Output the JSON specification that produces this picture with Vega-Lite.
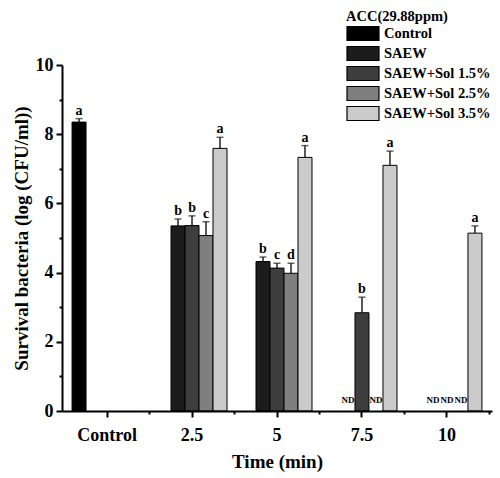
{
  "$schema": "https://vega.github.io/schema/vega-lite/v6.json",
  "width": 430,
  "height": 346,
  "autosize": {"type": "none"},
  "padding": {"left": 62, "top": 65, "right": 8, "bottom": 67},
  "background": "white",
  "data": {
    "values": [
      {"time": "Control", "group": "Control", "value": 8.35, "upper": 8.45, "label": "a"},
      {"time": "2.5", "group": "SAEW", "value": 5.35, "upper": 5.55, "label": "b"},
      {"time": "2.5", "group": "SAEW+Sol 1.5%", "value": 5.36, "upper": 5.64, "label": "b"},
      {"time": "2.5", "group": "SAEW+Sol 2.5%", "value": 5.07, "upper": 5.47, "label": "c"},
      {"time": "2.5", "group": "SAEW+Sol 3.5%", "value": 7.59, "upper": 7.91, "label": "a"},
      {"time": "5", "group": "SAEW", "value": 4.32, "upper": 4.45, "label": "b"},
      {"time": "5", "group": "SAEW+Sol 1.5%", "value": 4.13, "upper": 4.27, "label": "c"},
      {"time": "5", "group": "SAEW+Sol 2.5%", "value": 3.98, "upper": 4.27, "label": "d"},
      {"time": "5", "group": "SAEW+Sol 3.5%", "value": 7.33, "upper": 7.67, "label": "a"},
      {"time": "7.5", "group": "SAEW", "value": 0, "upper": 0, "label": "ND"},
      {"time": "7.5", "group": "SAEW+Sol 1.5%", "value": 2.84, "upper": 3.29, "label": "b"},
      {"time": "7.5", "group": "SAEW+Sol 2.5%", "value": 0, "upper": 0, "label": "ND"},
      {"time": "7.5", "group": "SAEW+Sol 3.5%", "value": 7.10, "upper": 7.51, "label": "a"},
      {"time": "10", "group": "SAEW", "value": 0, "upper": 0, "label": "ND"},
      {"time": "10", "group": "SAEW+Sol 1.5%", "value": 0, "upper": 0, "label": "ND"},
      {"time": "10", "group": "SAEW+Sol 2.5%", "value": 0, "upper": 0, "label": "ND"},
      {"time": "10", "group": "SAEW+Sol 3.5%", "value": 5.14, "upper": 5.35, "label": "a"}
    ]
  },
  "encoding": {
    "x": {
      "field": "time", "type": "nominal",
      "sort": ["Control", "2.5", "5", "7.5", "10"],
      "scale": {"domain": ["Control", "2.5", "5", "7.5", "10"], "paddingInner": 0, "paddingOuter": 0.03},
      "axis": null
    },
    "xOffset": {
      "field": "group", "type": "nominal",
      "scale": {"domain": ["Control", "SAEW", "SAEW+Sol 1.5%", "SAEW+Sol 2.5%", "SAEW+Sol 3.5%"], "paddingInner": 0, "paddingOuter": 0.536}
    }
  },
  "resolve": {"axis": {"x": "independent", "y": "independent"}},
  "layer": [
    {
      "transform": [{"filter": "datum.value > 0"}],
      "mark": {"type": "rule", "color": "#222222", "strokeWidth": 1.5},
      "encoding": {
        "x": {
          "field": "time", "type": "nominal",
          "sort": ["Control", "2.5", "5", "7.5", "10"],
          "axis": {"orient": "bottom", "bandPosition": 1, "labels": false, "title": null, "domain": false, "tickSize": 3, "zindex": 1}
        },
        "y": {
          "field": "value", "type": "quantitative",
          "axis": {"orient": "left", "values": [1, 3, 5, 7, 9], "labels": false, "title": null, "domain": false, "tickSize": 3, "zindex": 1}
        },
        "y2": {"field": "upper"}
      }
    },
    {
      "transform": [{"filter": "datum.value > 0"}],
      "mark": {"type": "bar", "stroke": "black", "strokeWidth": 1},
      "encoding": {
        "x": {
          "field": "time", "type": "nominal",
          "sort": ["Control", "2.5", "5", "7.5", "10"],
          "axis": {"orient": "bottom", "title": "Time (min)", "labelAngle": 0, "zindex": 1}
        },
        "y": {
          "field": "value", "type": "quantitative",
          "scale": {"domain": [0, 10], "nice": false},
          "axis": {"orient": "left", "title": "Survival bacteria (log (CFU/ml))", "values": [0, 2, 4, 6, 8, 10], "zindex": 1}
        },
        "fill": {
          "field": "group", "type": "nominal",
          "scale": {
            "domain": ["Control", "SAEW", "SAEW+Sol 1.5%", "SAEW+Sol 2.5%", "SAEW+Sol 3.5%"],
            "range": ["#000000", "#1c1c1c", "#3e3e3e", "#7f7f7f", "#cbcbcb"]
          },
          "legend": {
            "title": "ACC(29.88ppm)",
            "orient": "none",
            "legendX": 284,
            "legendY": -55
          }
        }
      }
    },
    {
      "transform": [{"filter": "datum.value > 0"}],
      "mark": {"type": "tick", "color": "#222222", "thickness": 1.5, "size": 7, "orient": "horizontal"},
      "encoding": {
        "y": {"field": "upper", "type": "quantitative", "axis": null}
      }
    },
    {
      "transform": [{"filter": "datum.label != 'ND'"}],
      "mark": {"type": "text", "font": "Liberation Serif", "fontWeight": "bold", "fontSize": 14, "baseline": "alphabetic", "dy": -4, "color": "black"},
      "encoding": {
        "y": {"field": "upper", "type": "quantitative", "axis": null},
        "text": {"field": "label"}
      }
    },
    {
      "transform": [{"filter": "datum.label == 'ND'"}],
      "mark": {"type": "text", "font": "Liberation Serif", "fontWeight": "bold", "fontSize": 9, "baseline": "alphabetic", "dy": -8, "color": "black"},
      "encoding": {
        "y": {"field": "upper", "type": "quantitative", "axis": null},
        "text": {"field": "label"}
      }
    }
  ],
  "config": {
    "view": {"stroke": null},
    "font": "Liberation Serif",
    "axis": {
      "grid": false,
      "domainColor": "black",
      "domainWidth": 2,
      "tickColor": "black",
      "tickWidth": 2,
      "tickSize": 6,
      "labelFont": "Liberation Serif",
      "labelFontWeight": "bold",
      "labelColor": "black",
      "titleFont": "Liberation Serif",
      "titleFontWeight": "bold",
      "titleColor": "black",
      "titleFontSize": 19
    },
    "axisX": {"labelFontSize": 18, "labelPadding": 9, "titlePadding": 8},
    "axisY": {"labelFontSize": 18, "labelPadding": 3, "titlePadding": 4},
    "legend": {
      "padding": 0,
      "titleFont": "Liberation Serif",
      "titleFontWeight": "bold",
      "titleFontSize": 14.5,
      "titleColor": "black",
      "titlePadding": 1,
      "labelFont": "Liberation Serif",
      "labelFontWeight": "bold",
      "labelFontSize": 14.5,
      "labelColor": "black",
      "symbolType": "M-1,-1H3.57V1H-1Z",
      "symbolSize": 196,
      "symbolStrokeColor": "black",
      "symbolStrokeWidth": 1.2,
      "symbolOpacity": 1,
      "labelOffset": 22,
      "rowPadding": 0
    }
  }
}
